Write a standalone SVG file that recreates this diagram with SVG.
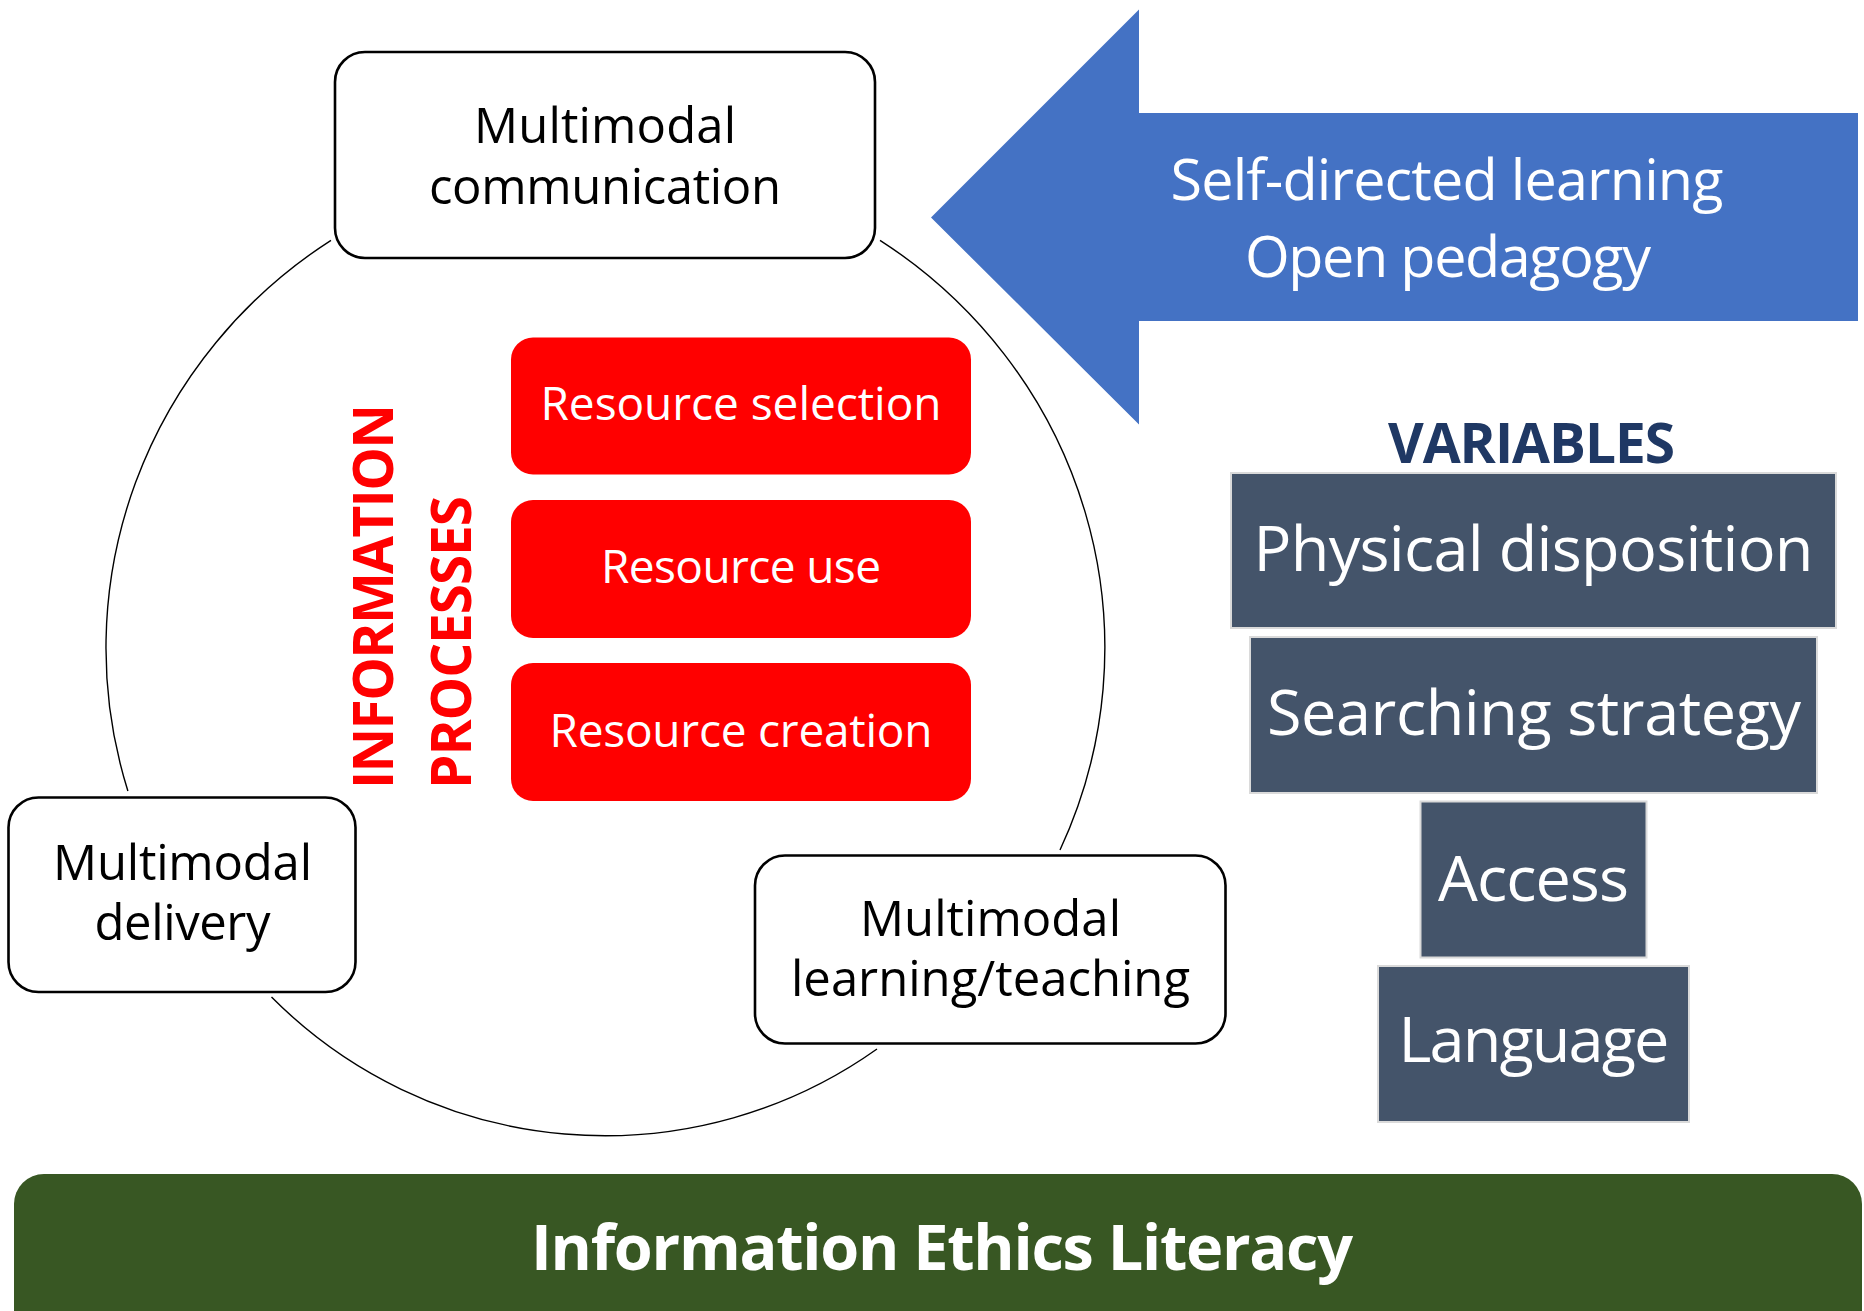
<svg xmlns="http://www.w3.org/2000/svg" width="1864" height="1311" viewBox="0 0 1864 1311">
  <style>
    .cycle { fill: #ffffff; stroke: #000000; stroke-width: 2.6; }
    .cycle-text { font-family: "Open Sans", "Liberation Sans", sans-serif; font-size: 49px; fill: #000000; text-anchor: middle; }
    .process { fill: #ff0000; }
    .process-text { font-family: "Open Sans", "Liberation Sans", sans-serif; font-size: 46px; fill: #ffffff; text-anchor: middle; }
    .vertical { font-family: "Open Sans", "Liberation Sans", sans-serif; font-weight: bold; font-size: 55px; fill: #ff0000; text-anchor: middle; }
    .variable { fill: #44546a; stroke: #dadada; stroke-width: 2; }
    .variable-text { font-family: "Open Sans", "Liberation Sans", sans-serif; font-size: 63px; fill: #ffffff; text-anchor: middle; }
    .arc { fill: none; stroke: #000000; stroke-width: 1.4; }
  </style>

  <!-- arcs of the cycle, running between the four nodes -->
  <g id="connectors">
    <path class="arc" d="M 880 240.3 A 499.5 488 0 0 1 1060 850"/>
    <path class="arc" d="M 877 1049 A 470 470 0 0 1 271.5 997"/>
    <path class="arc" d="M 127.9 791 A 499.5 488 0 0 1 331 240.3"/>
  </g>

  <g id="multimodal-communication">
    <rect class="cycle" x="335" y="52" width="540" height="206" rx="30"/>
    <text class="cycle-text" x="605" y="142.5" textLength="262">Multimodal</text>
    <text class="cycle-text" x="605" y="204" textLength="352">communication</text>
  </g>

  <g id="multimodal-delivery">
    <rect class="cycle" x="8.5" y="797.5" width="347" height="194.5" rx="30"/>
    <text class="cycle-text" x="182.5" y="880" textLength="259">Multimodal</text>
    <text class="cycle-text" x="182.5" y="940" textLength="176">delivery</text>
  </g>

  <g id="multimodal-learning-teaching">
    <rect class="cycle" x="755" y="855.5" width="470.5" height="188" rx="30"/>
    <text class="cycle-text" x="990.5" y="936" textLength="261">Multimodal</text>
    <text class="cycle-text" x="990.5" y="996" textLength="399">learning/teaching</text>
  </g>

  <g id="information-processes-label">
    <text class="vertical" transform="translate(393 596.5) rotate(-90)" textLength="385">INFORMATION</text>
    <text class="vertical" transform="translate(471 642.5) rotate(-90)" textLength="293">PROCESSES</text>
  </g>

  <g id="resource-selection">
    <rect class="process" x="511" y="337.5" width="460" height="137" rx="22"/>
    <text class="process-text" x="741" y="420" textLength="401">Resource selection</text>
  </g>
  <g id="resource-use">
    <rect class="process" x="511" y="500" width="460" height="138" rx="22"/>
    <text class="process-text" x="741" y="583" textLength="280">Resource use</text>
  </g>
  <g id="resource-creation">
    <rect class="process" x="511" y="663" width="460" height="138" rx="22"/>
    <text class="process-text" x="741" y="746.5" textLength="383">Resource creation</text>
  </g>

  <g id="self-directed-arrow">
    <polygon fill="#4472c4" points="931,217.5 1139,9.5 1139,113 1858,113 1858,321 1139,321 1139,424.5"/>
    <text x="1447" y="200" textLength="553" font-family="Open Sans, Liberation Sans, sans-serif" font-size="57.5" fill="#ffffff" text-anchor="middle">Self-directed learning</text>
    <text x="1448" y="277" textLength="406" font-family="Open Sans, Liberation Sans, sans-serif" font-size="57.5" fill="#ffffff" text-anchor="middle">Open pedagogy</text>
  </g>

  <g id="variables-title">
    <text x="1531.5" y="463" textLength="287" font-family="Open Sans, Liberation Sans, sans-serif" font-weight="bold" font-size="55" fill="#1f3864" text-anchor="middle">VARIABLES</text>
  </g>
  <g id="physical-disposition">
    <rect class="variable" x="1231" y="473" width="605" height="155"/>
    <text class="variable-text" x="1533.5" y="571" textLength="560">Physical disposition</text>
  </g>
  <g id="searching-strategy">
    <rect class="variable" x="1250" y="637" width="567" height="156"/>
    <text class="variable-text" x="1534" y="735" textLength="534">Searching strategy</text>
  </g>
  <g id="access">
    <rect class="variable" x="1420.5" y="801.5" width="226" height="156"/>
    <text class="variable-text" x="1533.5" y="901" textLength="191">Access</text>
  </g>
  <g id="language">
    <rect class="variable" x="1378" y="966" width="311" height="156"/>
    <text class="variable-text" x="1534" y="1062" textLength="271">Language</text>
  </g>

  <g id="information-ethics-literacy">
    <rect x="14" y="1174" width="1848" height="180" rx="30" fill="#385723"/>
    <text x="942" y="1270" textLength="822" font-family="Open Sans, Liberation Sans, sans-serif" font-weight="bold" font-size="63" fill="#ffffff" text-anchor="middle">Information Ethics Literacy</text>
  </g>
</svg>
